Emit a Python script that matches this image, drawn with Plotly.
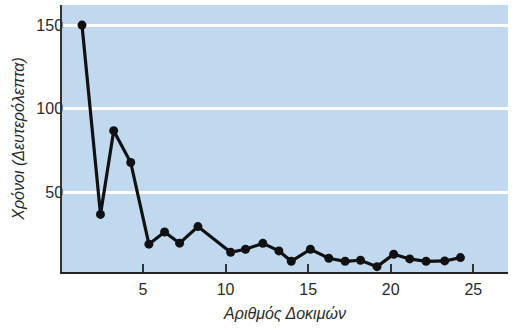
import plotly.graph_objects as go

# Trial positions and times in seconds
trials = [1.31, 2.43, 3.23, 4.26, 5.36, 6.31, 7.22, 8.33, 10.31, 11.21, 12.26, 13.23,
          13.98, 15.14, 16.25, 17.24, 18.17, 19.17, 20.18, 21.15, 22.14, 23.27, 24.22]
times = [150, 37, 87, 68, 19.2, 26.5, 19.8, 29.7, 14.4, 16.2, 19.7, 15.2,
         9.0, 16.2, 10.8, 9.0, 9.6, 5.8, 13.2, 10.4, 9.0, 9.2, 11.2]

x_ticks = [5, 10, 15, 20, 25]
y_ticks = [50, 100, 150]

x_title = "Αριθμός Δοκιμών"
y_title = "Χρόνοι (Δευτερόλεπτα)"

fig = go.Figure()
fig.add_trace(go.Scatter(
    x=trials, y=times, mode="lines+markers",
    line=dict(color="#111111", width=3.2),
    marker=dict(color="#111111", size=9),
    showlegend=False,
))

font_family = "Liberation Sans, Arial, sans-serif"
text_color = "#2a2a2a"

fig.update_layout(
    width=522, height=330,
    margin=dict(l=62, r=14, t=5, b=58),
    paper_bgcolor="white",
    plot_bgcolor="#c0d9ee",
    font=dict(family=font_family, size=15, color=text_color),
    xaxis=dict(
        range=[0.1, 27.1],
        tickvals=x_ticks,
        ticks="inside", ticklen=8, tickwidth=1.5, tickcolor="#333333",
        showgrid=False, zeroline=False,
        showline=True, linecolor="#222222", linewidth=2,
        tickfont=dict(size=16, color=text_color),
        ticklabelstandoff=2,
        title=dict(text=x_title, font=dict(size=16, color=text_color, style="italic"), standoff=11),
    ),
    yaxis=dict(
        range=[2.6, 162],
        tickvals=y_ticks,
        ticks="",
        showgrid=True, gridcolor="white", gridwidth=2.5,
        zeroline=False,
        showline=True, linecolor="#333333", linewidth=1.5,
        tickfont=dict(size=16, color=text_color),
        ticklabelstandoff=-6,
        title=dict(text=y_title, font=dict(size=16, color=text_color, style="italic"), standoff=8),
    ),
)

fig.write_html("out.html")
